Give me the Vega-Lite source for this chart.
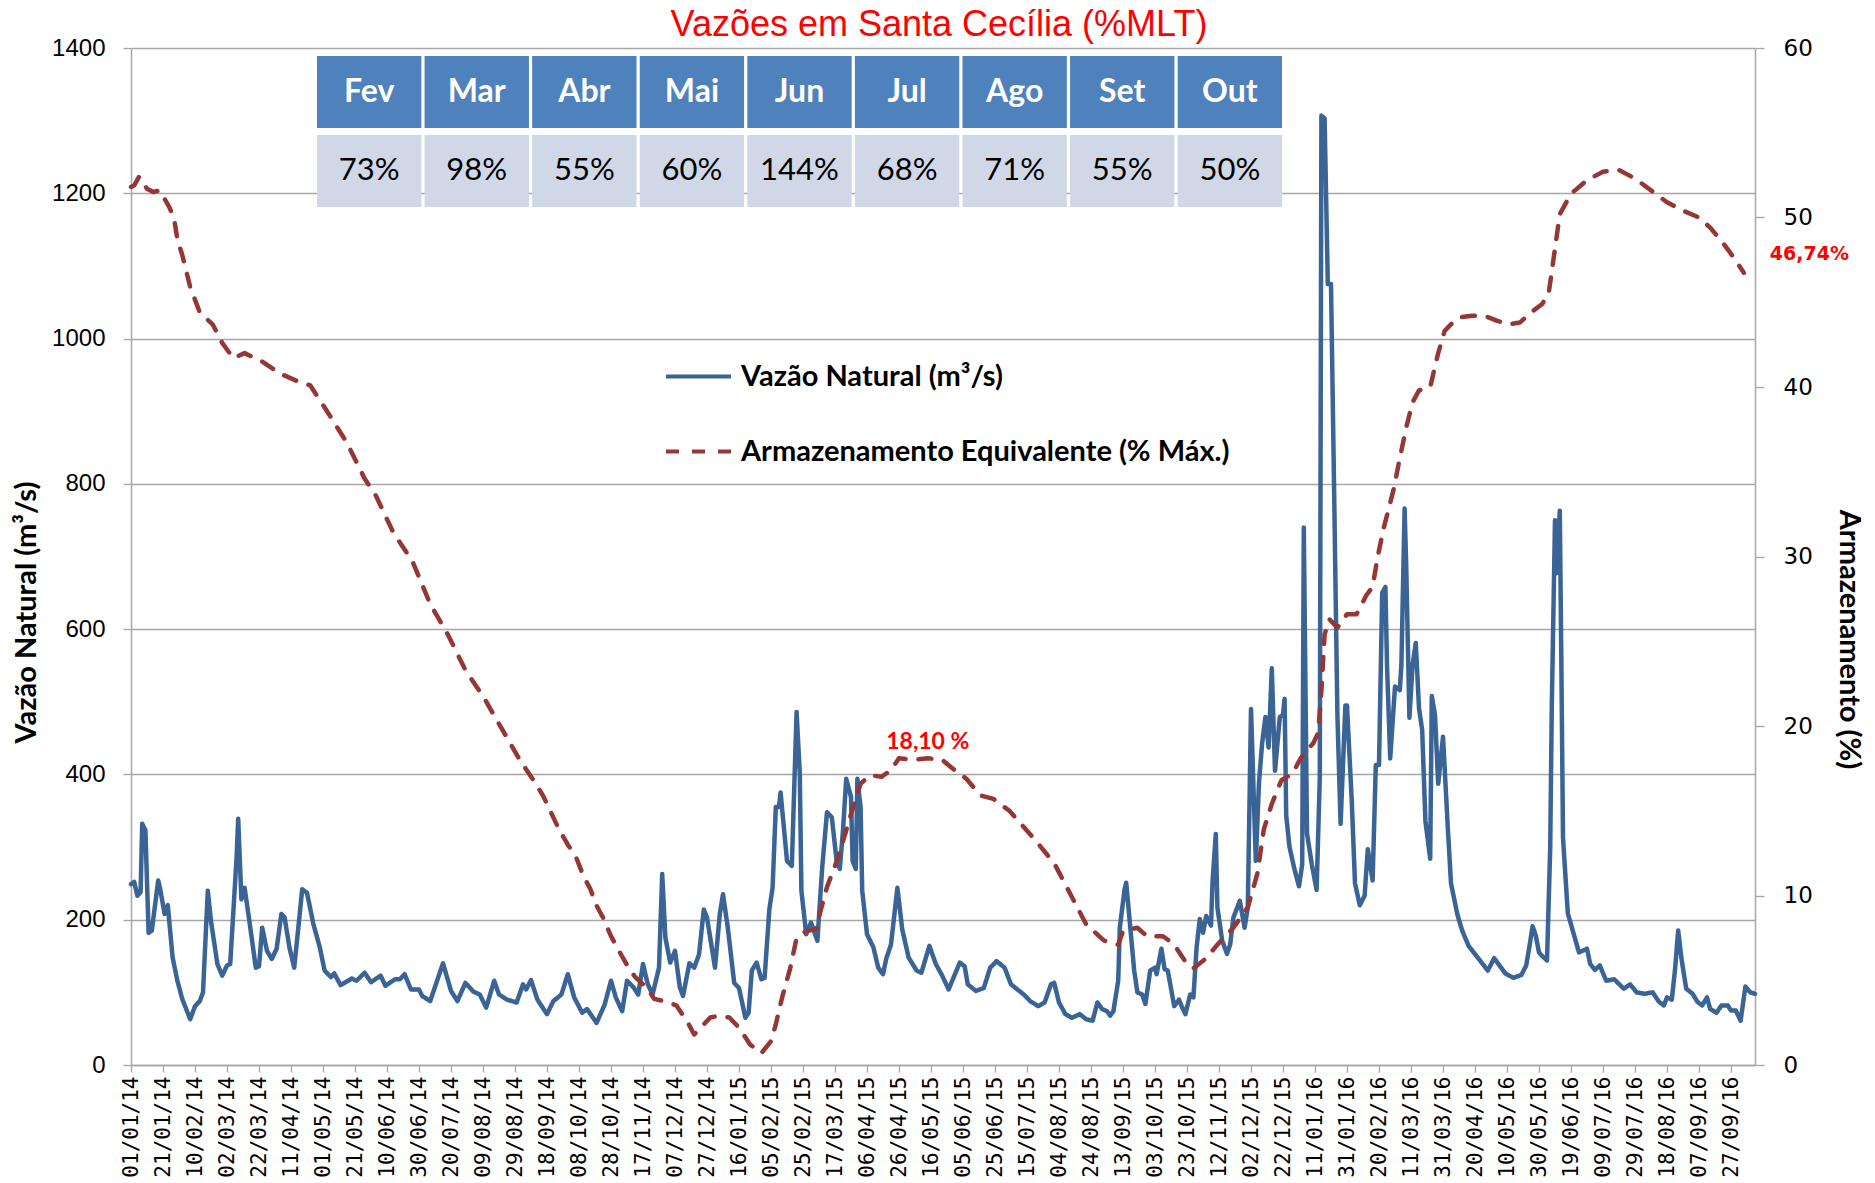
{
  "$schema": "https://vega.github.io/schema/vega-lite/v6.json",
  "width": 1624,
  "height": 1017,
  "autosize": {"type": "none"},
  "padding": {"left": 131, "top": 48, "right": 120, "bottom": 118},
  "background": "white",
  "config": {
    "view": {"stroke": null},
    "axis": {"labelOverlap": false, "labelSeparation": 0},
    "axisX": {"labelOverlap": false, "labelSeparation": 0},
    "axisBottom": {"labelOverlap": false},
    "axisTemporal": {"labelOverlap": false}
  },
  "title": {
    "text": "Vazões em Santa Cecília (%MLT)",
    "color": "#FF0000",
    "font": "Liberation Sans",
    "fontSize": 36,
    "fontWeight": "normal",
    "anchor": "middle",
    "frame": "group",
    "baseline": "alphabetic",
    "offset": -36,
    "dx": -4
  },
  "datasets": {
    "vazao": [
      {"data": "2014-01-01", "vazao": 249}, {"data": "2014-01-03", "vazao": 252}, {"data": "2014-01-05", "vazao": 233},
      {"data": "2014-01-07", "vazao": 238}, {"data": "2014-01-08", "vazao": 332}, {"data": "2014-01-10", "vazao": 323},
      {"data": "2014-01-12", "vazao": 182}, {"data": "2014-01-14", "vazao": 185}, {"data": "2014-01-18", "vazao": 254},
      {"data": "2014-01-19", "vazao": 245}, {"data": "2014-01-22", "vazao": 208}, {"data": "2014-01-24", "vazao": 220},
      {"data": "2014-01-27", "vazao": 148}, {"data": "2014-01-30", "vazao": 116}, {"data": "2014-02-02", "vazao": 91},
      {"data": "2014-02-07", "vazao": 63}, {"data": "2014-02-10", "vazao": 81}, {"data": "2014-02-13", "vazao": 88},
      {"data": "2014-02-15", "vazao": 100}, {"data": "2014-02-18", "vazao": 240}, {"data": "2014-02-20", "vazao": 198},
      {"data": "2014-02-24", "vazao": 139}, {"data": "2014-02-27", "vazao": 123}, {"data": "2014-03-02", "vazao": 137},
      {"data": "2014-03-04", "vazao": 139}, {"data": "2014-03-08", "vazao": 286}, {"data": "2014-03-09", "vazao": 339},
      {"data": "2014-03-11", "vazao": 228}, {"data": "2014-03-13", "vazao": 244}, {"data": "2014-03-16", "vazao": 198},
      {"data": "2014-03-20", "vazao": 134}, {"data": "2014-03-22", "vazao": 136}, {"data": "2014-03-24", "vazao": 189},
      {"data": "2014-03-27", "vazao": 157}, {"data": "2014-03-30", "vazao": 146}, {"data": "2014-04-02", "vazao": 160},
      {"data": "2014-04-05", "vazao": 208}, {"data": "2014-04-07", "vazao": 203}, {"data": "2014-04-10", "vazao": 162},
      {"data": "2014-04-13", "vazao": 134}, {"data": "2014-04-16", "vazao": 198}, {"data": "2014-04-18", "vazao": 242},
      {"data": "2014-04-21", "vazao": 237}, {"data": "2014-04-25", "vazao": 194}, {"data": "2014-04-29", "vazao": 162},
      {"data": "2014-05-02", "vazao": 130}, {"data": "2014-05-06", "vazao": 121}, {"data": "2014-05-08", "vazao": 126},
      {"data": "2014-05-12", "vazao": 110}, {"data": "2014-05-19", "vazao": 119}, {"data": "2014-05-22", "vazao": 116},
      {"data": "2014-05-27", "vazao": 127}, {"data": "2014-05-31", "vazao": 114}, {"data": "2014-06-06", "vazao": 123},
      {"data": "2014-06-09", "vazao": 109}, {"data": "2014-06-15", "vazao": 118}, {"data": "2014-06-18", "vazao": 118},
      {"data": "2014-06-21", "vazao": 125}, {"data": "2014-06-25", "vazao": 104}, {"data": "2014-06-30", "vazao": 104},
      {"data": "2014-07-02", "vazao": 95}, {"data": "2014-07-07", "vazao": 88}, {"data": "2014-07-15", "vazao": 140},
      {"data": "2014-07-20", "vazao": 102}, {"data": "2014-07-24", "vazao": 88}, {"data": "2014-07-29", "vazao": 113},
      {"data": "2014-08-03", "vazao": 101}, {"data": "2014-08-07", "vazao": 97}, {"data": "2014-08-11", "vazao": 79},
      {"data": "2014-08-16", "vazao": 116}, {"data": "2014-08-19", "vazao": 97}, {"data": "2014-08-24", "vazao": 90},
      {"data": "2014-08-30", "vazao": 86}, {"data": "2014-09-03", "vazao": 111}, {"data": "2014-09-05", "vazao": 104},
      {"data": "2014-09-08", "vazao": 117}, {"data": "2014-09-12", "vazao": 90}, {"data": "2014-09-18", "vazao": 70},
      {"data": "2014-09-22", "vazao": 88}, {"data": "2014-09-27", "vazao": 97}, {"data": "2014-10-01", "vazao": 125},
      {"data": "2014-10-05", "vazao": 93}, {"data": "2014-10-10", "vazao": 72}, {"data": "2014-10-13", "vazao": 77},
      {"data": "2014-10-19", "vazao": 58}, {"data": "2014-10-24", "vazao": 83}, {"data": "2014-10-28", "vazao": 116},
      {"data": "2014-10-31", "vazao": 93}, {"data": "2014-11-04", "vazao": 74}, {"data": "2014-11-07", "vazao": 116},
      {"data": "2014-11-11", "vazao": 107}, {"data": "2014-11-14", "vazao": 97}, {"data": "2014-11-17", "vazao": 139},
      {"data": "2014-11-20", "vazao": 111}, {"data": "2014-11-23", "vazao": 97}, {"data": "2014-11-27", "vazao": 134},
      {"data": "2014-11-29", "vazao": 263}, {"data": "2014-12-01", "vazao": 175}, {"data": "2014-12-04", "vazao": 141},
      {"data": "2014-12-07", "vazao": 157}, {"data": "2014-12-10", "vazao": 107}, {"data": "2014-12-12", "vazao": 95},
      {"data": "2014-12-16", "vazao": 140}, {"data": "2014-12-19", "vazao": 134}, {"data": "2014-12-22", "vazao": 152},
      {"data": "2014-12-25", "vazao": 214}, {"data": "2014-12-27", "vazao": 203}, {"data": "2015-01-01", "vazao": 134},
      {"data": "2015-01-04", "vazao": 208}, {"data": "2015-01-06", "vazao": 235}, {"data": "2015-01-09", "vazao": 189},
      {"data": "2015-01-13", "vazao": 113}, {"data": "2015-01-16", "vazao": 106}, {"data": "2015-01-20", "vazao": 65},
      {"data": "2015-01-22", "vazao": 72}, {"data": "2015-01-24", "vazao": 130}, {"data": "2015-01-27", "vazao": 141},
      {"data": "2015-01-30", "vazao": 118}, {"data": "2015-02-01", "vazao": 120}, {"data": "2015-02-04", "vazao": 215},
      {"data": "2015-02-06", "vazao": 244}, {"data": "2015-02-08", "vazao": 355}, {"data": "2015-02-10", "vazao": 355},
      {"data": "2015-02-11", "vazao": 375}, {"data": "2015-02-15", "vazao": 281}, {"data": "2015-02-18", "vazao": 274},
      {"data": "2015-02-21", "vazao": 486}, {"data": "2015-02-23", "vazao": 401}, {"data": "2015-02-24", "vazao": 240},
      {"data": "2015-02-27", "vazao": 180}, {"data": "2015-03-02", "vazao": 196}, {"data": "2015-03-06", "vazao": 171},
      {"data": "2015-03-09", "vazao": 272}, {"data": "2015-03-12", "vazao": 348}, {"data": "2015-03-15", "vazao": 341},
      {"data": "2015-03-18", "vazao": 281}, {"data": "2015-03-20", "vazao": 270}, {"data": "2015-03-22", "vazao": 323},
      {"data": "2015-03-24", "vazao": 394}, {"data": "2015-03-27", "vazao": 369}, {"data": "2015-03-28", "vazao": 281},
      {"data": "2015-03-30", "vazao": 270}, {"data": "2015-03-31", "vazao": 394}, {"data": "2015-04-02", "vazao": 355},
      {"data": "2015-04-03", "vazao": 240}, {"data": "2015-04-06", "vazao": 180}, {"data": "2015-04-10", "vazao": 162},
      {"data": "2015-04-13", "vazao": 134}, {"data": "2015-04-16", "vazao": 125}, {"data": "2015-04-18", "vazao": 146},
      {"data": "2015-04-21", "vazao": 166}, {"data": "2015-04-25", "vazao": 244}, {"data": "2015-04-28", "vazao": 187},
      {"data": "2015-05-02", "vazao": 148}, {"data": "2015-05-07", "vazao": 130}, {"data": "2015-05-10", "vazao": 127},
      {"data": "2015-05-15", "vazao": 164}, {"data": "2015-05-19", "vazao": 139}, {"data": "2015-05-23", "vazao": 123},
      {"data": "2015-05-27", "vazao": 104}, {"data": "2015-06-03", "vazao": 141}, {"data": "2015-06-06", "vazao": 136},
      {"data": "2015-06-08", "vazao": 111}, {"data": "2015-06-13", "vazao": 102}, {"data": "2015-06-18", "vazao": 106},
      {"data": "2015-06-22", "vazao": 134}, {"data": "2015-06-26", "vazao": 143}, {"data": "2015-07-01", "vazao": 134},
      {"data": "2015-07-05", "vazao": 111}, {"data": "2015-07-09", "vazao": 104}, {"data": "2015-07-13", "vazao": 97},
      {"data": "2015-07-17", "vazao": 88}, {"data": "2015-07-22", "vazao": 81}, {"data": "2015-07-26", "vazao": 86},
      {"data": "2015-07-30", "vazao": 111}, {"data": "2015-08-01", "vazao": 113}, {"data": "2015-08-04", "vazao": 86},
      {"data": "2015-08-08", "vazao": 70}, {"data": "2015-08-12", "vazao": 65}, {"data": "2015-08-17", "vazao": 70},
      {"data": "2015-08-21", "vazao": 63}, {"data": "2015-08-25", "vazao": 61}, {"data": "2015-08-28", "vazao": 86},
      {"data": "2015-08-31", "vazao": 77}, {"data": "2015-09-03", "vazao": 74}, {"data": "2015-09-05", "vazao": 68},
      {"data": "2015-09-07", "vazao": 74}, {"data": "2015-09-10", "vazao": 116}, {"data": "2015-09-11", "vazao": 189},
      {"data": "2015-09-14", "vazao": 242}, {"data": "2015-09-15", "vazao": 251}, {"data": "2015-09-17", "vazao": 203},
      {"data": "2015-09-20", "vazao": 130}, {"data": "2015-09-22", "vazao": 100}, {"data": "2015-09-25", "vazao": 97},
      {"data": "2015-09-27", "vazao": 84}, {"data": "2015-09-30", "vazao": 130}, {"data": "2015-10-03", "vazao": 134},
      {"data": "2015-10-04", "vazao": 125}, {"data": "2015-10-07", "vazao": 160}, {"data": "2015-10-09", "vazao": 132},
      {"data": "2015-10-11", "vazao": 130}, {"data": "2015-10-15", "vazao": 81}, {"data": "2015-10-18", "vazao": 90},
      {"data": "2015-10-20", "vazao": 79}, {"data": "2015-10-22", "vazao": 70}, {"data": "2015-10-25", "vazao": 97},
      {"data": "2015-10-27", "vazao": 93}, {"data": "2015-10-29", "vazao": 162}, {"data": "2015-10-31", "vazao": 201},
      {"data": "2015-11-02", "vazao": 182}, {"data": "2015-11-04", "vazao": 205}, {"data": "2015-11-07", "vazao": 192},
      {"data": "2015-11-08", "vazao": 254}, {"data": "2015-11-10", "vazao": 318}, {"data": "2015-11-11", "vazao": 217},
      {"data": "2015-11-14", "vazao": 171}, {"data": "2015-11-17", "vazao": 153}, {"data": "2015-11-19", "vazao": 166},
      {"data": "2015-11-21", "vazao": 203}, {"data": "2015-11-25", "vazao": 226}, {"data": "2015-11-28", "vazao": 189},
      {"data": "2015-11-30", "vazao": 217}, {"data": "2015-12-02", "vazao": 490}, {"data": "2015-12-05", "vazao": 281},
      {"data": "2015-12-07", "vazao": 389}, {"data": "2015-12-09", "vazao": 444}, {"data": "2015-12-11", "vazao": 479},
      {"data": "2015-12-13", "vazao": 437}, {"data": "2015-12-15", "vazao": 546}, {"data": "2015-12-17", "vazao": 405},
      {"data": "2015-12-20", "vazao": 479}, {"data": "2015-12-22", "vazao": 482}, {"data": "2015-12-23", "vazao": 504},
      {"data": "2015-12-24", "vazao": 344}, {"data": "2015-12-26", "vazao": 301}, {"data": "2015-12-29", "vazao": 271},
      {"data": "2016-01-01", "vazao": 246}, {"data": "2016-01-03", "vazao": 276}, {"data": "2016-01-04", "vazao": 740},
      {"data": "2016-01-06", "vazao": 319}, {"data": "2016-01-09", "vazao": 276}, {"data": "2016-01-12", "vazao": 241},
      {"data": "2016-01-14", "vazao": 396}, {"data": "2016-01-15", "vazao": 1307}, {"data": "2016-01-17", "vazao": 1303},
      {"data": "2016-01-19", "vazao": 1075}, {"data": "2016-01-21", "vazao": 1075}, {"data": "2016-01-23", "vazao": 783},
      {"data": "2016-01-25", "vazao": 482}, {"data": "2016-01-27", "vazao": 332}, {"data": "2016-01-30", "vazao": 495},
      {"data": "2016-01-31", "vazao": 495}, {"data": "2016-02-03", "vazao": 362}, {"data": "2016-02-05", "vazao": 250},
      {"data": "2016-02-08", "vazao": 220}, {"data": "2016-02-11", "vazao": 233}, {"data": "2016-02-13", "vazao": 297},
      {"data": "2016-02-16", "vazao": 254}, {"data": "2016-02-18", "vazao": 413}, {"data": "2016-02-20", "vazao": 413},
      {"data": "2016-02-22", "vazao": 650}, {"data": "2016-02-24", "vazao": 658}, {"data": "2016-02-25", "vazao": 551},
      {"data": "2016-02-27", "vazao": 422}, {"data": "2016-03-01", "vazao": 521}, {"data": "2016-03-04", "vazao": 516},
      {"data": "2016-03-05", "vazao": 551}, {"data": "2016-03-07", "vazao": 766}, {"data": "2016-03-08", "vazao": 688},
      {"data": "2016-03-10", "vazao": 478}, {"data": "2016-03-12", "vazao": 551}, {"data": "2016-03-14", "vazao": 581},
      {"data": "2016-03-16", "vazao": 491}, {"data": "2016-03-18", "vazao": 461}, {"data": "2016-03-20", "vazao": 336},
      {"data": "2016-03-23", "vazao": 284}, {"data": "2016-03-24", "vazao": 508}, {"data": "2016-03-26", "vazao": 482},
      {"data": "2016-03-28", "vazao": 387}, {"data": "2016-03-31", "vazao": 452}, {"data": "2016-04-03", "vazao": 327},
      {"data": "2016-04-05", "vazao": 250}, {"data": "2016-04-09", "vazao": 207}, {"data": "2016-04-12", "vazao": 185},
      {"data": "2016-04-16", "vazao": 164}, {"data": "2016-04-22", "vazao": 147}, {"data": "2016-04-28", "vazao": 130},
      {"data": "2016-05-02", "vazao": 147}, {"data": "2016-05-09", "vazao": 126}, {"data": "2016-05-14", "vazao": 120},
      {"data": "2016-05-19", "vazao": 124}, {"data": "2016-05-22", "vazao": 137}, {"data": "2016-05-24", "vazao": 163},
      {"data": "2016-05-26", "vazao": 191}, {"data": "2016-05-28", "vazao": 178}, {"data": "2016-05-30", "vazao": 155},
      {"data": "2016-06-01", "vazao": 150}, {"data": "2016-06-04", "vazao": 144}, {"data": "2016-06-06", "vazao": 298},
      {"data": "2016-06-07", "vazao": 495}, {"data": "2016-06-09", "vazao": 750}, {"data": "2016-06-10", "vazao": 677},
      {"data": "2016-06-12", "vazao": 763}, {"data": "2016-06-13", "vazao": 547}, {"data": "2016-06-14", "vazao": 313},
      {"data": "2016-06-17", "vazao": 209}, {"data": "2016-06-21", "vazao": 178}, {"data": "2016-06-24", "vazao": 155},
      {"data": "2016-06-29", "vazao": 160}, {"data": "2016-07-01", "vazao": 139}, {"data": "2016-07-04", "vazao": 131},
      {"data": "2016-07-07", "vazao": 137}, {"data": "2016-07-11", "vazao": 116}, {"data": "2016-07-16", "vazao": 118},
      {"data": "2016-07-22", "vazao": 105}, {"data": "2016-07-26", "vazao": 111}, {"data": "2016-07-30", "vazao": 100},
      {"data": "2016-08-04", "vazao": 98}, {"data": "2016-08-09", "vazao": 100}, {"data": "2016-08-13", "vazao": 87},
      {"data": "2016-08-16", "vazao": 82}, {"data": "2016-08-18", "vazao": 93}, {"data": "2016-08-21", "vazao": 90},
      {"data": "2016-08-23", "vazao": 131}, {"data": "2016-08-25", "vazao": 185}, {"data": "2016-08-27", "vazao": 147},
      {"data": "2016-08-30", "vazao": 105}, {"data": "2016-09-03", "vazao": 98}, {"data": "2016-09-06", "vazao": 87},
      {"data": "2016-09-09", "vazao": 82}, {"data": "2016-09-12", "vazao": 93}, {"data": "2016-09-14", "vazao": 77},
      {"data": "2016-09-18", "vazao": 72}, {"data": "2016-09-21", "vazao": 82}, {"data": "2016-09-25", "vazao": 82},
      {"data": "2016-09-27", "vazao": 75}, {"data": "2016-09-30", "vazao": 75}, {"data": "2016-10-03", "vazao": 61},
      {"data": "2016-10-06", "vazao": 108}, {"data": "2016-10-09", "vazao": 100}, {"data": "2016-10-12", "vazao": 98}
    ],
    "armaz": [
      {"data": "2014-01-01", "armaz": 51.8}, {"data": "2014-01-03", "armaz": 51.9}, {"data": "2014-01-06", "armaz": 52.4},
      {"data": "2014-01-11", "armaz": 51.7}, {"data": "2014-01-15", "armaz": 51.5}, {"data": "2014-01-19", "armaz": 51.6},
      {"data": "2014-01-25", "armaz": 50.6}, {"data": "2014-01-28", "armaz": 49.9}, {"data": "2014-01-30", "armaz": 48.7},
      {"data": "2014-02-02", "armaz": 47.8}, {"data": "2014-02-07", "armaz": 45.9}, {"data": "2014-02-13", "armaz": 44.4},
      {"data": "2014-02-21", "armaz": 43.7}, {"data": "2014-02-27", "armaz": 42.6}, {"data": "2014-03-06", "armaz": 41.7},
      {"data": "2014-03-13", "armaz": 42.0}, {"data": "2014-03-24", "armaz": 41.5}, {"data": "2014-04-04", "armaz": 40.8},
      {"data": "2014-04-16", "armaz": 40.3}, {"data": "2014-04-23", "armaz": 40.1}, {"data": "2014-05-04", "armaz": 38.5},
      {"data": "2014-05-16", "armaz": 36.7}, {"data": "2014-05-27", "armaz": 34.6}, {"data": "2014-06-03", "armaz": 33.6},
      {"data": "2014-06-14", "armaz": 31.4}, {"data": "2014-06-26", "armaz": 29.7}, {"data": "2014-07-07", "armaz": 27.2},
      {"data": "2014-07-18", "armaz": 25.4}, {"data": "2014-07-29", "armaz": 23.3}, {"data": "2014-08-10", "armaz": 21.6},
      {"data": "2014-08-21", "armaz": 19.8}, {"data": "2014-09-01", "armaz": 18.0}, {"data": "2014-09-11", "armaz": 16.6},
      {"data": "2014-09-16", "armaz": 15.8}, {"data": "2014-09-21", "armaz": 14.8}, {"data": "2014-09-25", "armaz": 14.0},
      {"data": "2014-10-01", "armaz": 13.0}, {"data": "2014-10-06", "armaz": 12.3}, {"data": "2014-10-11", "armaz": 11.1},
      {"data": "2014-10-15", "armaz": 10.4}, {"data": "2014-10-19", "armaz": 9.4}, {"data": "2014-10-23", "armaz": 8.7},
      {"data": "2014-10-28", "armaz": 7.6}, {"data": "2014-11-01", "armaz": 6.9}, {"data": "2014-11-07", "armaz": 5.9},
      {"data": "2014-11-12", "armaz": 5.2}, {"data": "2014-11-20", "armaz": 4.5}, {"data": "2014-11-24", "armaz": 3.9},
      {"data": "2014-12-03", "armaz": 3.7}, {"data": "2014-12-08", "armaz": 3.5}, {"data": "2014-12-15", "armaz": 2.5},
      {"data": "2014-12-19", "armaz": 1.8}, {"data": "2014-12-24", "armaz": 2.3}, {"data": "2014-12-29", "armaz": 2.8},
      {"data": "2015-01-03", "armaz": 2.9}, {"data": "2015-01-10", "armaz": 2.8}, {"data": "2015-01-16", "armaz": 2.2},
      {"data": "2015-01-23", "armaz": 1.2}, {"data": "2015-01-30", "armaz": 0.7}, {"data": "2015-02-05", "armaz": 1.4},
      {"data": "2015-02-08", "armaz": 2.4}, {"data": "2015-02-12", "armaz": 4.0}, {"data": "2015-02-17", "armaz": 5.7},
      {"data": "2015-02-21", "armaz": 7.5}, {"data": "2015-02-27", "armaz": 7.9}, {"data": "2015-03-05", "armaz": 8.0},
      {"data": "2015-03-08", "armaz": 9.1}, {"data": "2015-03-12", "armaz": 10.5}, {"data": "2015-03-18", "armaz": 12.0},
      {"data": "2015-03-22", "armaz": 13.2}, {"data": "2015-03-27", "armaz": 14.8}, {"data": "2015-04-02", "armaz": 16.6},
      {"data": "2015-04-08", "armaz": 17.1}, {"data": "2015-04-15", "armaz": 17.0}, {"data": "2015-04-21", "armaz": 17.4},
      {"data": "2015-04-26", "armaz": 18.1}, {"data": "2015-05-05", "armaz": 18.0}, {"data": "2015-05-14", "armaz": 18.1},
      {"data": "2015-05-23", "armaz": 18.0}, {"data": "2015-06-01", "armaz": 17.3}, {"data": "2015-06-07", "armaz": 16.9},
      {"data": "2015-06-16", "armaz": 15.9}, {"data": "2015-06-24", "armaz": 15.7}, {"data": "2015-07-04", "armaz": 15.0},
      {"data": "2015-07-19", "armaz": 13.4}, {"data": "2015-08-01", "armaz": 11.9}, {"data": "2015-08-11", "armaz": 10.1},
      {"data": "2015-08-21", "armaz": 8.3}, {"data": "2015-09-01", "armaz": 7.35}, {"data": "2015-09-10", "armaz": 7.1},
      {"data": "2015-09-13", "armaz": 7.9}, {"data": "2015-09-22", "armaz": 8.1}, {"data": "2015-09-28", "armaz": 7.6},
      {"data": "2015-10-08", "armaz": 7.6}, {"data": "2015-10-15", "armaz": 7.1}, {"data": "2015-10-22", "armaz": 6.1},
      {"data": "2015-10-27", "armaz": 5.7}, {"data": "2015-11-04", "armaz": 6.3}, {"data": "2015-11-11", "armaz": 7.1},
      {"data": "2015-11-21", "armaz": 8.1}, {"data": "2015-11-30", "armaz": 9.3}, {"data": "2015-12-06", "armaz": 11.3},
      {"data": "2015-12-10", "armaz": 13.9}, {"data": "2015-12-15", "armaz": 15.4}, {"data": "2015-12-21", "armaz": 16.8},
      {"data": "2015-12-28", "armaz": 17.2}, {"data": "2016-01-02", "armaz": 18.1}, {"data": "2016-01-10", "armaz": 19.0},
      {"data": "2016-01-13", "armaz": 19.6}, {"data": "2016-01-15", "armaz": 22.1}, {"data": "2016-01-17", "armaz": 25.4},
      {"data": "2016-01-20", "armaz": 26.3}, {"data": "2016-01-25", "armaz": 25.8}, {"data": "2016-01-31", "armaz": 26.6},
      {"data": "2016-02-06", "armaz": 26.6}, {"data": "2016-02-12", "armaz": 27.7}, {"data": "2016-02-16", "armaz": 28.2},
      {"data": "2016-02-19", "armaz": 29.9}, {"data": "2016-02-23", "armaz": 31.7}, {"data": "2016-02-29", "armaz": 33.9},
      {"data": "2016-03-04", "armaz": 35.8}, {"data": "2016-03-08", "armaz": 37.6}, {"data": "2016-03-12", "armaz": 39.1},
      {"data": "2016-03-16", "armaz": 39.8}, {"data": "2016-03-23", "armaz": 40.0}, {"data": "2016-03-28", "armaz": 42.0},
      {"data": "2016-04-01", "armaz": 43.3}, {"data": "2016-04-06", "armaz": 43.8}, {"data": "2016-04-10", "armaz": 44.1},
      {"data": "2016-04-18", "armaz": 44.2}, {"data": "2016-04-26", "armaz": 44.2}, {"data": "2016-05-04", "armaz": 43.9},
      {"data": "2016-05-11", "armaz": 43.7}, {"data": "2016-05-18", "armaz": 43.8}, {"data": "2016-05-25", "armaz": 44.4},
      {"data": "2016-06-01", "armaz": 44.9}, {"data": "2016-06-05", "armaz": 45.5}, {"data": "2016-06-08", "armaz": 47.5},
      {"data": "2016-06-12", "armaz": 50.2}, {"data": "2016-06-19", "armaz": 51.4}, {"data": "2016-06-29", "armaz": 52.2},
      {"data": "2016-07-09", "armaz": 52.7}, {"data": "2016-07-19", "armaz": 52.8}, {"data": "2016-07-29", "armaz": 52.3},
      {"data": "2016-08-08", "armaz": 51.6}, {"data": "2016-08-18", "armaz": 50.9}, {"data": "2016-08-28", "armaz": 50.4},
      {"data": "2016-09-07", "armaz": 50.0}, {"data": "2016-09-14", "armaz": 49.4}, {"data": "2016-09-22", "armaz": 48.5},
      {"data": "2016-09-29", "armaz": 47.6}, {"data": "2016-10-05", "armaz": 46.74}
    ],
    "tabela": [
      {"mes": "Fev", "pct": "73%"}, {"mes": "Mar", "pct": "98%"}, {"mes": "Abr", "pct": "55%"},
      {"mes": "Mai", "pct": "60%"}, {"mes": "Jun", "pct": "144%"}, {"mes": "Jul", "pct": "68%"},
      {"mes": "Ago", "pct": "71%"}, {"mes": "Set", "pct": "55%"}, {"mes": "Out", "pct": "50%"}
    ]
  },
  "layer": [
    {
      "encoding": {
        "x": {
          "field": "data", "type": "temporal",
          "scale": {"type": "utc", "domain": [{"year": 2014, "month": 1, "date": 1, "utc": true}, {"year": 2016, "month": 10, "date": 12, "utc": true}]},
          "axis": {
            "title": null, "format": "%d/%m/%y", "labelAngle": -90,
            "labelFont": "DejaVu Sans Mono", "labelFontSize": 21, "labelColor": "#000000",
            "tickSize": 7, "tickColor": "#A6A6A6", "tickWidth": 1.3, "domainColor": "#A6A6A6", "domainWidth": 1.5,
            "labelPadding": 4, "grid": false, "labelOverlap": false, "labelSeparation": 0, "labelBound": false, "labelFlush": false,
            "values": [
              {"year": 2014, "month": 1, "date": 1, "utc": true}, {"year": 2014, "month": 1, "date": 21, "utc": true},
              {"year": 2014, "month": 2, "date": 10, "utc": true}, {"year": 2014, "month": 3, "date": 2, "utc": true},
              {"year": 2014, "month": 3, "date": 22, "utc": true}, {"year": 2014, "month": 4, "date": 11, "utc": true},
              {"year": 2014, "month": 5, "date": 1, "utc": true}, {"year": 2014, "month": 5, "date": 21, "utc": true},
              {"year": 2014, "month": 6, "date": 10, "utc": true}, {"year": 2014, "month": 6, "date": 30, "utc": true},
              {"year": 2014, "month": 7, "date": 20, "utc": true}, {"year": 2014, "month": 8, "date": 9, "utc": true},
              {"year": 2014, "month": 8, "date": 29, "utc": true}, {"year": 2014, "month": 9, "date": 18, "utc": true},
              {"year": 2014, "month": 10, "date": 8, "utc": true}, {"year": 2014, "month": 10, "date": 28, "utc": true},
              {"year": 2014, "month": 11, "date": 17, "utc": true}, {"year": 2014, "month": 12, "date": 7, "utc": true},
              {"year": 2014, "month": 12, "date": 27, "utc": true}, {"year": 2015, "month": 1, "date": 16, "utc": true},
              {"year": 2015, "month": 2, "date": 5, "utc": true}, {"year": 2015, "month": 2, "date": 25, "utc": true},
              {"year": 2015, "month": 3, "date": 17, "utc": true}, {"year": 2015, "month": 4, "date": 6, "utc": true},
              {"year": 2015, "month": 4, "date": 26, "utc": true}, {"year": 2015, "month": 5, "date": 16, "utc": true},
              {"year": 2015, "month": 6, "date": 5, "utc": true}, {"year": 2015, "month": 6, "date": 25, "utc": true},
              {"year": 2015, "month": 7, "date": 15, "utc": true}, {"year": 2015, "month": 8, "date": 4, "utc": true},
              {"year": 2015, "month": 8, "date": 24, "utc": true}, {"year": 2015, "month": 9, "date": 13, "utc": true},
              {"year": 2015, "month": 10, "date": 3, "utc": true}, {"year": 2015, "month": 10, "date": 23, "utc": true},
              {"year": 2015, "month": 11, "date": 12, "utc": true}, {"year": 2015, "month": 12, "date": 2, "utc": true},
              {"year": 2015, "month": 12, "date": 22, "utc": true}, {"year": 2016, "month": 1, "date": 11, "utc": true},
              {"year": 2016, "month": 1, "date": 31, "utc": true}, {"year": 2016, "month": 2, "date": 20, "utc": true},
              {"year": 2016, "month": 3, "date": 11, "utc": true}, {"year": 2016, "month": 3, "date": 31, "utc": true},
              {"year": 2016, "month": 4, "date": 20, "utc": true}, {"year": 2016, "month": 5, "date": 10, "utc": true},
              {"year": 2016, "month": 5, "date": 30, "utc": true}, {"year": 2016, "month": 6, "date": 19, "utc": true},
              {"year": 2016, "month": 7, "date": 9, "utc": true}, {"year": 2016, "month": 7, "date": 29, "utc": true},
              {"year": 2016, "month": 8, "date": 18, "utc": true}, {"year": 2016, "month": 9, "date": 7, "utc": true},
              {"year": 2016, "month": 9, "date": 27, "utc": true}
            ]
          }
        }
      },
      "layer": [
        {
          "data": {"name": "vazao"},
          "mark": {"type": "line", "strokeWidth": 4.5, "strokeJoin": "round", "strokeCap": "round"},
          "encoding": {
            "y": {
              "field": "vazao", "type": "quantitative",
              "scale": {"domain": [0, 1400], "nice": false, "zero": true},
              "axis": {
                "orient": "left", "title": "Vazão Natural (m³/s)", "format": "d",
                "values": [0, 200, 400, 600, 800, 1000, 1200, 1400],
                "grid": true, "gridColor": "#A6A6A6", "gridWidth": 1.3,
                "labelFont": "Liberation Sans", "labelFontSize": 24, "labelColor": "#000000",
                "tickSize": 8, "tickColor": "#A6A6A6", "tickWidth": 1.3, "labelPadding": 18,
                "domainColor": "#A6A6A6", "domainWidth": 1.5,
                "titleFont": "Lato", "titleFontSize": 29,
                "titleFontWeight": "bold", "titleColor": "#000000",
                "titleAngle": -90, "titleX": -105, "titleY": 564, "titleAlign": "center", "titleBaseline": "middle"
              }
            },
            "color": {
              "datum": "Vazão Natural (m³/s)", "type": "nominal",
              "scale": {"domain": ["Vazão Natural (m³/s)", "Armazenamento Equivalente (% Máx.)"], "range": ["#3A6396", "#953735"]},
              "legend": {
                "title": null, "orient": "none", "legendX": 533, "legendY": 294,
                "symbolType": "stroke", "symbolSize": 4225, "symbolStrokeWidth": 4,
                "labelFont": "Lato", "labelFontSize": 29,
                "labelFontWeight": "bold", "labelColor": "#000000", "labelOffset": 8, "rowPadding": 25,
                "padding": 0, "labelLimit": 0
              }
            },
            "strokeDash": {
              "datum": "Vazão Natural (m³/s)", "type": "nominal",
              "scale": {"domain": ["Vazão Natural (m³/s)", "Armazenamento Equivalente (% Máx.)"], "range": [[1, 0], [13, 13]]},
              "legend": {
                "title": null, "orient": "none", "legendX": 533, "legendY": 294,
                "symbolType": "stroke", "symbolSize": 4225, "symbolStrokeWidth": 4,
                "labelFont": "Lato", "labelFontSize": 29,
                "labelFontWeight": "bold", "labelColor": "#000000", "labelOffset": 8, "rowPadding": 25,
                "padding": 0, "labelLimit": 0
              }
            }
          }
        },
        {
          "data": {"name": "armaz"},
          "mark": {"type": "line", "strokeWidth": 4.5, "strokeCap": "round", "strokeJoin": "round"},
          "encoding": {
            "y": {
              "field": "armaz", "type": "quantitative",
              "scale": {"domain": [0, 60], "nice": false},
              "axis": {
                "orient": "right", "title": "Armazenamento (%)",
                "values": [0, 10, 20, 30, 40, 50, 60], "grid": false,
                "labelFont": "DejaVu Sans", "labelFontSize": 23, "labelColor": "#000000",
                "tickSize": 9, "tickColor": "#A6A6A6", "tickWidth": 1.3, "labelPadding": 19,
                "domainColor": "#A6A6A6", "domainWidth": 1.5,
                "titleFont": "Lato", "titleFontSize": 29,
                "titleFontWeight": "bold", "titleColor": "#000000",
                "titleAngle": 90, "titleX": 93, "titleY": 591, "titleAlign": "center", "titleBaseline": "middle"
              }
            },
            "color": {"datum": "Armazenamento Equivalente (% Máx.)", "type": "nominal"},
            "strokeDash": {"datum": "Armazenamento Equivalente (% Máx.)", "type": "nominal"}
          }
        },
        {
          "data": {"values": [{"data": "2015-05-14", "armaz": 18.1, "rotulo": "18,10 %"}]},
          "mark": {"type": "text", "font": "Lato", "fontWeight": "bold", "fontSize": 23, "color": "#FF0000", "dy": -16, "align": "center", "baseline": "middle"},
          "encoding": {
            "y": {"field": "armaz", "type": "quantitative", "scale": {"domain": [0, 60], "nice": false}, "axis": null},
            "text": {"field": "rotulo"}
          }
        },
        {
          "data": {"values": [{"data": "2016-10-05", "armaz": 46.74, "rotulo": "46,74%"}]},
          "mark": {"type": "text", "font": "DejaVu Sans", "fontWeight": "bold", "fontSize": 19, "color": "#FF0000", "dx": 26, "dy": -19, "align": "left", "baseline": "middle"},
          "encoding": {
            "y": {"field": "armaz", "type": "quantitative", "scale": {"domain": [0, 60], "nice": false}, "axis": null},
            "text": {"field": "rotulo"}
          }
        }
      ],
      "resolve": {"scale": {"y": "independent"}, "axis": {"y": "independent"}}
    },
    {
      "data": {"name": "tabela"},
      "encoding": {
        "x": {
          "field": "mes", "type": "nominal", "sort": null,
          "scale": {"type": "band", "range": [186, 1151], "paddingInner": 0.03, "paddingOuter": 0},
          "axis": null
        }
      },
      "layer": [
        {
          "mark": {"type": "rect", "color": "#4F81BD"},
          "encoding": {
            "y": {"datum": "cab", "type": "nominal", "scale": {"type": "band", "domain": ["cab", "val"], "range": [8, 159], "paddingInner": 0.09, "paddingOuter": 0}, "axis": null}
          }
        },
        {
          "mark": {"type": "rect", "color": "#D0D8E8"},
          "encoding": {
            "y": {"datum": "val", "type": "nominal"}
          }
        },
        {
          "mark": {"type": "text", "font": "Lato", "fontSize": 32, "fontWeight": "bold", "color": "white", "baseline": "middle", "align": "center"},
          "encoding": {
            "y": {"datum": "cab", "type": "nominal"},
            "text": {"field": "mes"}
          }
        },
        {
          "mark": {"type": "text", "font": "Lato", "fontSize": 31, "color": "black", "baseline": "middle", "align": "center"},
          "encoding": {
            "y": {"datum": "val", "type": "nominal"},
            "text": {"field": "pct"}
          }
        }
      ]
    }
  ],
  "resolve": {"scale": {"x": "independent", "y": "independent"}}
}
